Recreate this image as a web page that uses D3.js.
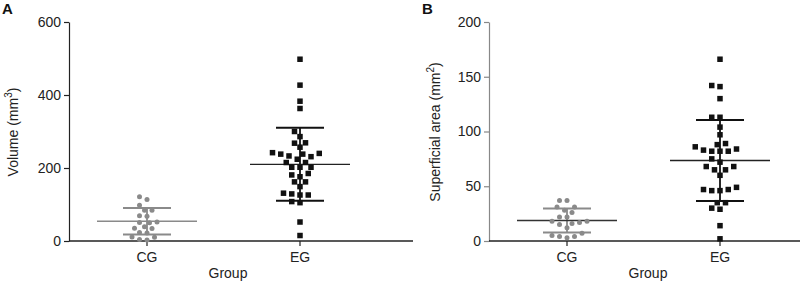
<!DOCTYPE html>
<html><head><meta charset="utf-8">
<script src="https://cdn.jsdelivr.net/npm/d3@7"></script>
<style>body{margin:0;background:#fff}svg{display:block;font-family:"Liberation Sans",Arial,sans-serif}</style>
</head><body><svg id="c" width="800" height="285"></svg>
<script>
const groups = ["CG", "EG"];
const volCG = [121,114,98,84,84,69,68,51,52,50,34,39,35,23,22,11,10,4,3];
const volEG = [498,427,383,363,300,286,269,268,257,240,238,233,238,242,231,224,215,215,202,202,202,185,181,176,162,162,149,131,126,126,129,105,108,52,15];
const areaCG = [37,37,31,31,28,26,22,22,18,17,18,15,16,12,4,3,4,5,7];
const areaEG = [166,141,142,130,113,113,104,97,89,88,86,84,83,82,82,82,75,72,68,65,65,68,60,49,47,46,46,47,35,35,29,30,14,2];
const volMean = [54, 210], volSD = [36.5, 100];
const areaMean = [18.7, 73.5], areaSD = [11, 37];
const volTicks = [0,200,400,600];
const areaTicks = [0,50,100,150,200];

const svg = d3.select("#c");

function panel(opt){
  const g = svg.append("g").attr("transform",`translate(${opt.x0},0)`);
  const top = 22, bot = 241;
  const y = d3.scaleLinear().domain(opt.domain).range([bot, top]);
  const x = d3.scalePoint().domain(groups).range([78, 231]);
  const ya = d3.axisLeft(y).tickValues(opt.ticks).tickSize(5).tickSizeOuter(0);
  const yg = g.append("g").call(ya);
  yg.select(".domain").attr("stroke", opt.yaxisColor).attr("stroke-width",1.2);
  yg.selectAll(".tick line").attr("stroke", opt.yaxisColor).attr("stroke-width",1.2);
  yg.selectAll("text").attr("font-size",14).attr("fill","#222").attr("x",-8).attr("font-family","Liberation Sans, Arial, sans-serif");
  g.append("line").attr("x1",0).attr("x2",opt.xlen).attr("y1",bot).attr("y2",bot).attr("stroke","#222").attr("stroke-width",1.3);
  groups.forEach(k=>{
    g.append("line").attr("x1",x(k)).attr("x2",x(k)).attr("y1",bot).attr("y2",bot+5).attr("stroke","#222").attr("stroke-width",1.2);
    g.append("text").attr("x",x(k)).attr("y",bot+21).attr("text-anchor","middle").attr("font-size",14).attr("fill","#222").text(k);
  });
  g.append("text").attr("x",159).attr("y",bot+37).attr("text-anchor","middle").attr("font-size",14).attr("fill","#222").text("Group");
  const yl = g.append("text").attr("transform",`translate(${opt.labelX},132) rotate(-90)`).attr("text-anchor","middle").attr("font-size",14).attr("fill","#222");
  yl.append("tspan").text(opt.label);
  yl.append("tspan").attr("dy",-6).attr("font-size",10).text(opt.sup);
  yl.append("tspan").attr("dy",6).text(")");
  svg.append("text").attr("x",opt.x0+opt.letterDx).attr("y",14).attr("font-size",15).attr("font-weight","bold").attr("fill","#111").text(opt.letter);

  opt.series.forEach((vals,i)=>{
    const k = groups[i];
    const cx = x(k);
    const col = i===0 ? "#8a8a8a" : "#111";
    const size = i===0 ? 5 : 5.5;
    const m = opt.mean[i], s = opt.sd[i];
    g.append("line").attr("x1",cx).attr("x2",cx).attr("y1",y(m+s)).attr("y2",y(m-s)).attr("stroke",col).attr("stroke-width",1.8);
    [m+s, m-s].forEach(v=>{
      g.append("line").attr("x1",cx-24).attr("x2",cx+24).attr("y1",y(v)).attr("y2",y(v)).attr("stroke",col).attr("stroke-width",2);
    });
    g.append("line").attr("x1",cx-50).attr("x2",cx+50).attr("y1",y(m)).attr("y2",y(m)).attr("stroke", i===0 ? opt.cgMeanColor : "#222").attr("stroke-width",1.4);
    const placed = [];
    const sorted = vals.slice().sort((a,b)=>a-b);
    const step = size*0.5;
    const thr = size*1.2;
    sorted.forEach(v=>{
      const py = y(v);
      let off = 0;
      for (let n=0; n<80; n++){
        const cand = n===0 ? 0 : (n%2 ? -1 : 1) * Math.ceil(n/2) * step;
        const hit = placed.some(p => Math.hypot(p.x-cand, p.y-py) < thr);
        if (!hit){ off = cand; break; }
      }
      placed.push({x:off, y:py});
    });
    if (i===0){
      g.append("g").selectAll("circle").data(placed).join("circle")
        .attr("cx",d=>cx+d.x).attr("cy",d=>d.y).attr("r",size/2).attr("fill",col);
    } else {
      g.append("g").selectAll("rect").data(placed).join("rect")
        .attr("x",d=>cx+d.x-size/2).attr("y",d=>d.y-size/2).attr("width",size).attr("height",size).attr("fill",col);
    }
  });
}

panel({x0:69, domain:[0,600], ticks:volTicks, xlen:344, label:"Volume (mm", sup:"3", labelX:-51,
  letter:"A", letterDx:-67, series:[volCG, volEG], mean:volMean, sd:volSD, yaxisColor:"#222", cgMeanColor:"#8a8a8a"});
panel({x0:489, domain:[0,200], ticks:areaTicks, xlen:320, label:"Superficial area (mm", sup:"2", labelX:-49,
  letter:"B", letterDx:-67, series:[areaCG, areaEG], mean:areaMean, sd:areaSD, yaxisColor:"#888", cgMeanColor:"#333"});
</script></body></html>
